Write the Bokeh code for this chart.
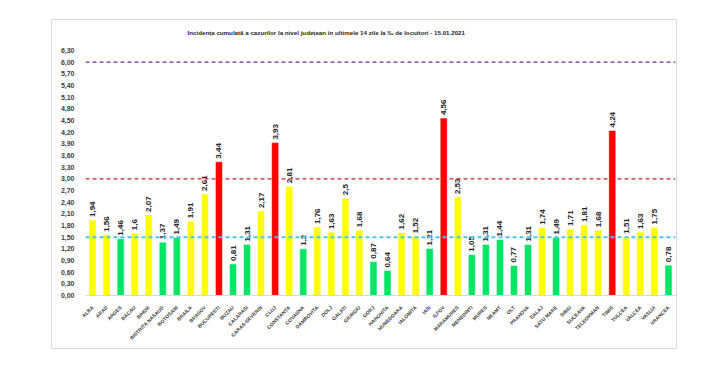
import math
from bokeh.plotting import figure
from bokeh.models import (ColumnDataSource, FixedTicker, CustomJSTickFormatter,
                          Span, FactorRange, Range1d, InlineStyleSheet)
from bokeh.core.properties import value
from bokeh.embed import file_html
from bokeh.resources import INLINE

counties = ["ALBA", "ARAD", "ARGES", "BACAU", "BIHOR", "BISTRITA NASAUD", "BOTOSANI",
            "BRAILA", "BRASOV", "BUCURESTI", "BUZAU", "CALARASI", "CARAS-SEVERIN", "CLUJ",
            "CONSTANTA", "COVASNA", "DAMBOVITA", "DOLJ", "GALATI", "GIURGIU", "GORJ",
            "HARGHITA", "HUNEDOARA", "IALOMITA", "IASI", "ILFOV", "MARAMURES", "MEHEDINTI",
            "MURES", "NEAMT", "OLT", "PRAHOVA", "SALAJ", "SATU MARE", "SIBIU", "SUCEAVA",
            "TELEORMAN", "TIMIS", "TULCEA", "VALCEA", "VASLUI", "VRANCEA"]
incidence = [1.94, 1.56, 1.46, 1.6, 2.07, 1.37, 1.49, 1.91, 2.61, 3.44, 0.81, 1.31, 2.17,
             3.93, 2.81, 1.2, 1.76, 1.63, 2.5, 1.68, 0.87, 0.64, 1.62, 1.52, 1.21, 4.56,
             2.53, 1.05, 1.31, 1.44, 0.77, 1.31, 1.74, 1.49, 1.71, 1.81, 1.68, 4.24, 1.51,
             1.63, 1.75, 0.78]
thresholds = [6.0, 3.0, 1.5]
y_ticks = [round(i * 0.3, 2) for i in range(22)]
title_text = "Incidența cumulată a cazurilor la nivel județean în ultimele 14 zile   la ‰ de locuitori  - 15.01.2021"

GREEN = "#00E664"
YELLOW = "#FFFF00"
RED = "#FF0000"

def color_for(v):
    if v > thresholds[1]:
        return RED
    if v >= thresholds[2]:
        return YELLOW
    return GREEN

src = ColumnDataSource(dict(
    x=counties,
    y=incidence,
    color=[color_for(v) for v in incidence],
    label=[("%g" % v).replace(".", ",") for v in incidence],
))

border_css = InlineStyleSheet(css=":host { outline: 1px solid #d9d9d9; }")

p = figure(x_range=FactorRange(*counties, range_padding=0.0),
           y_range=Range1d(0, 6.58),
           width=624, height=328, margin=(20, 0, 0, 52),
           output_backend="svg", toolbar_location=None,
           min_border_left=33, min_border_right=1, min_border_top=19,
           min_border_bottom=53, stylesheets=[border_css])

p.title.text = title_text
p.title.text_font = "Liberation Sans"
p.title.text_font_size = "6.2px"
p.title.text_font_style = "bold"
p.title.text_color = "#262626"
p.title.align = "left"
p.title.offset = 102
p.title.vertical_align = "top"
p.title.standoff = 4

p.vbar(x="x", top="y", width=0.5, fill_color="color", line_color="white",
       line_width=0.5, source=src)

p.text(x="x", y="y", text="label", angle=math.pi / 2, source=src,
       text_font=value("Liberation Sans"), text_font_size="8px", text_font_style="bold",
       text_color="#262626", text_align="left", text_baseline="middle", y_offset=-3)

span_colors = ["#7030A0", "#E02020", "#4FC3F7"]
span_widths = [1.3, 1.3, 2]
for t, c, w in zip(thresholds, span_colors, span_widths):
    p.add_layout(Span(location=t, dimension="width", line_color=c, line_width=w,
                      line_dash="4 3"))

p.yaxis.ticker = FixedTicker(ticks=y_ticks)
p.yaxis.formatter = CustomJSTickFormatter(code="return tick.toFixed(2).replace('.', ',');")
p.yaxis.axis_line_color = None
p.yaxis.major_tick_line_color = None
p.yaxis.minor_tick_line_color = None
p.yaxis.major_label_text_font = "Liberation Sans"
p.yaxis.major_label_text_font_size = "7px"
p.yaxis.major_label_text_font_style = "bold"
p.yaxis.major_label_text_color = "#404040"
p.yaxis.major_label_standoff = 5

p.xaxis.axis_line_color = "#d9d9d9"
p.xaxis.major_tick_line_color = None
p.xaxis.minor_tick_line_color = None
p.xaxis.major_label_orientation = math.pi / 4
p.xaxis.major_label_text_font = "Liberation Sans"
p.xaxis.major_label_text_font_size = "5px"
p.xaxis.major_label_text_font_style = "bold"
p.xaxis.major_label_text_color = "#404040"
p.xaxis.major_label_standoff = 5

p.xgrid.grid_line_color = None
p.ygrid.grid_line_color = None
p.outline_line_color = None
p.background_fill_color = "white"
p.border_fill_color = "white"

open("out.html", "w").write(file_html(p, INLINE))
